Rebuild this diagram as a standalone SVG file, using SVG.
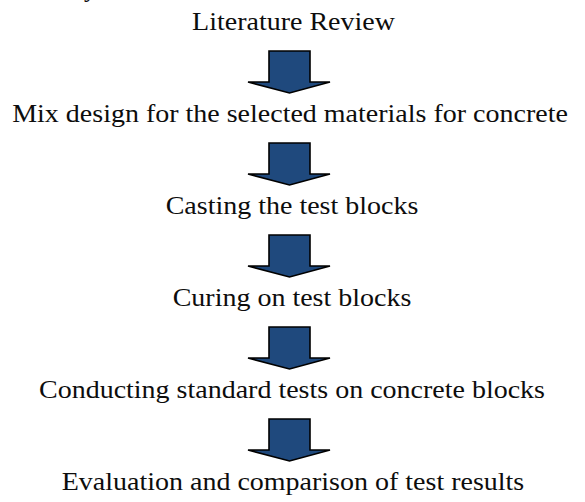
<svg xmlns="http://www.w3.org/2000/svg" width="585" height="502" viewBox="0 0 585 502">
<defs>
<style>
.t{font-family:"Liberation Serif","Times New Roman",serif;font-size:25px;fill:#0d0d0d;text-anchor:middle}
.a{fill:#1F497D;stroke:#000;stroke-width:1.6;stroke-linejoin:miter}
</style>
<path id="arr" d="M269,51 H310 V82 H330 L289.5,93 L248,82 H269 Z"/>
</defs>
<rect width="585" height="502" fill="#fff"/>
<text class="t" x="84" y="-3" style="text-anchor:start">y</text>
<g id="n1"><text class="t" transform="translate(293.5,30) scale(1.12,1)">Literature Review</text></g>
<g id="n2"><text class="t" transform="translate(290,122) scale(1.12,1)">Mix design for the selected materials for concrete</text></g>
<g id="n3"><text class="t" transform="translate(292,214) scale(1.12,1)">Casting the test blocks</text></g>
<g id="n4"><text class="t" transform="translate(292,306) scale(1.12,1)">Curing on test blocks</text></g>
<g id="n5"><text class="t" transform="translate(292,398) scale(1.12,1)">Conducting standard tests on concrete blocks</text></g>
<g id="n6"><text class="t" transform="translate(293,490) scale(1.12,1)">Evaluation and comparison of test results</text></g>
<g id="connectors">
<use href="#arr" class="a"/>
<use href="#arr" class="a" y="92"/>
<use href="#arr" class="a" y="184"/>
<use href="#arr" class="a" y="276"/>
<use href="#arr" class="a" y="368"/>
</g>
</svg>
